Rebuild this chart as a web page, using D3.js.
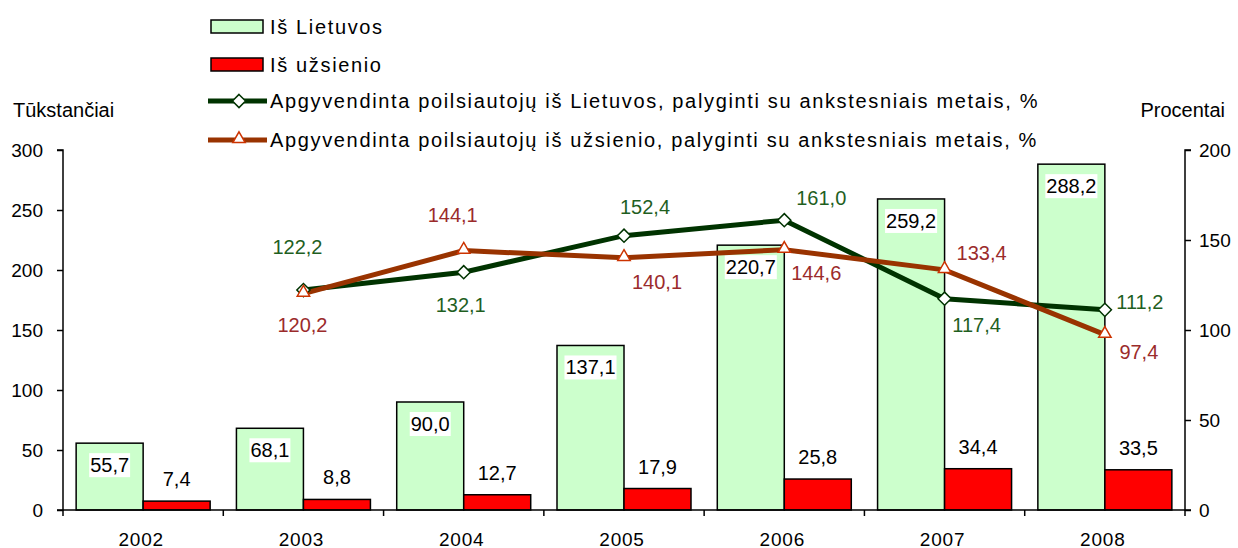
<!DOCTYPE html>
<html>
<head>
<meta charset="utf-8">
<script src="https://cdn.jsdelivr.net/npm/d3@7"></script>
<style>
	body { margin: 0; background: #fff; }
	svg { display: block; font-family: 'Liberation Sans', Arial, sans-serif; }
	.axis path, .axis line { stroke: #000; stroke-width: 1.5; }
	.axis text { font-size: 19px; fill: #000; }
</style>
</head>
<body>
<script>
// data
var years = ['2002', '2003', '2004', '2005', '2006', '2007', '2008'];
var fromLithuania = [55.7, 68.1, 90.0, 137.1, 220.7, 259.2, 288.2];
var fromAbroad = [7.4, 8.8, 12.7, 17.9, 25.8, 34.4, 33.5];
var lineYears = ['2003', '2004', '2005', '2006', '2007', '2008'];
var pctLithuania = [122.2, 132.1, 152.4, 161.0, 117.4, 111.2];
var pctAbroad = [120.2, 144.1, 140.1, 144.6, 133.4, 97.4];
var leftTicks = [0, 50, 100, 150, 200, 250, 300];
var rightTicks = [0, 50, 100, 150, 200];
var seriesNames = [
	'Iš Lietuvos',
	'Iš užsienio',
	'Apgyvendinta poilsiautojų iš Lietuvos, palyginti su ankstesniais metais, %',
	'Apgyvendinta poilsiautojų iš užsienio, palyginti su ankstesniais metais, %'
];

// hand placed label nudges (like the original), dx / dy from the marker
var greenLabelNudge = [[-6, -43], [-3, 33], [21, -29], [37, -22], [32, 26], [35, -8]];
var brownLabelNudge = [[-1, 31], [-11, -36], [33, 24], [32, 23], [37, -17], [34, 17]];

draw_chart();

function draw_chart () {
	var fmt = function (v) { return d3.format('.1f')(v).replace('.', ','); };

	var W = 1238, H = 548;
	var m = { left: 63, right: 1185, top: 150, bottom: 510 };

	var svg = d3.select('body')
		.append('svg')
		.attr('width', W)
		.attr('height', H);

	// scales
	var x = d3.scaleBand()
		.domain(years)
		.range([m.left, m.right])
		.paddingInner(0.164)
		.paddingOuter(0.082);
	var xIn = d3.scaleBand()
		.domain(['lt', 'ab'])
		.range([0, x.bandwidth()]);
	var yL = d3.scaleLinear().domain([0, 300]).range([m.bottom, m.top]);
	var yR = d3.scaleLinear().domain([0, 200]).range([m.bottom, m.top]);
	var cx = function (yr) { return x(yr) + x.bandwidth() / 2; };

	// bars
	svg.append('g')
		.selectAll('rect')
		.data(fromLithuania)
		.join('rect')
		.attr('x', function (d, i) { return x(years[i]) + xIn('lt'); })
		.attr('y', function (d) { return yL(d); })
		.attr('width', xIn.bandwidth())
		.attr('height', function (d) { return yL(0) - yL(d); })
		.attr('fill', '#ccffcc')
		.attr('stroke', '#000')
		.attr('stroke-width', 1.5);

	svg.append('g')
		.selectAll('rect')
		.data(fromAbroad)
		.join('rect')
		.attr('x', function (d, i) { return x(years[i]) + xIn('ab'); })
		.attr('y', function (d) { return yL(d); })
		.attr('width', xIn.bandwidth())
		.attr('height', function (d) { return yL(0) - yL(d); })
		.attr('fill', '#ff0000')
		.attr('stroke', '#000')
		.attr('stroke-width', 1.5);

	// axes
	var axL = d3.axisLeft(yL).tickValues(leftTicks).tickSize(6).tickPadding(14);
	svg.append('g')
		.attr('class', 'axis')
		.attr('transform', 'translate(' + m.left + ',0)')
		.call(axL)
		.call(function (g) { g.select('.domain').attr('d', 'M-6,' + m.top + 'H0V' + m.bottom + 'H-6'); });

	var axR = d3.axisRight(yR).tickValues(rightTicks).tickSize(6).tickPadding(8);
	svg.append('g')
		.attr('class', 'axis')
		.attr('transform', 'translate(' + m.right + ',0)')
		.call(axR)
		.call(function (g) { g.select('.domain').attr('d', 'M6,' + m.top + 'H0V' + m.bottom + 'H6'); });

	var xb = svg.append('g')
		.attr('class', 'axis')
		.attr('transform', 'translate(0,' + m.bottom + ')');
	xb.append('line')
		.attr('x1', m.left).attr('x2', m.right)
		.attr('y1', 0).attr('y2', 0);
	xb.selectAll('.tk')
		.data(d3.range(years.length + 1))
		.join('line')
		.attr('class', 'tk')
		.attr('x1', function (i) { return m.left + i * x.step(); })
		.attr('x2', function (i) { return m.left + i * x.step(); })
		.attr('y1', 0).attr('y2', 6);
	xb.selectAll('text')
		.data(years)
		.join('text')
		.attr('x', function (d) { return cx(d) - 2; })
		.attr('y', 29)
		.attr('dy', '0.35em')
		.attr('text-anchor', 'middle')
		.style('letter-spacing', '0.8px')
		.text(function (d) { return d; });

	// axis titles
	svg.append('text').attr('x', 13).attr('y', 110).attr('dy', '0.35em')
		.style('font-size', '20px').text('Tūkstančiai');
	svg.append('text').attr('x', 1225).attr('y', 110).attr('dy', '0.35em')
		.attr('text-anchor', 'end')
		.style('font-size', '20px').text('Procentai');

	// bar labels
	var ltLabels = svg.append('g')
		.selectAll('g')
		.data(fromLithuania)
		.join('g')
		.attr('transform', function (d, i) {
			return 'translate(' + (x(years[i]) + xIn('lt') + xIn.bandwidth() / 2) + ',' + (yL(d) + 22) + ')';
		});
	ltLabels.append('text')
		.attr('text-anchor', 'middle')
		.attr('dy', '0.35em')
		.style('font-size', '20px')
		.text(function (d) { return fmt(d); });
	ltLabels.insert('rect', 'text')
		.each(function () {
			var bb = this.parentNode.querySelector('text').getBBox();
			d3.select(this)
				.attr('x', bb.x - 1).attr('y', bb.y - 1)
				.attr('width', bb.width + 2).attr('height', bb.height + 2);
		})
		.attr('fill', '#fff');

	svg.append('g')
		.selectAll('text')
		.data(fromAbroad)
		.join('text')
		.attr('x', function (d, i) { return x(years[i]) + xIn('ab') + xIn.bandwidth() / 2; })
		.attr('y', function (d) { return yL(d) - 22; })
		.attr('dy', '0.35em')
		.attr('text-anchor', 'middle')
		.style('font-size', '20px')
		.text(function (d) { return fmt(d); });

	// lines
	var greenPts = pctLithuania.map(function (v, i) { return [cx(lineYears[i]), yR(v)]; });
	var brownPts = pctAbroad.map(function (v, i) { return [cx(lineYears[i]), yR(v)]; });
	var line = d3.line();

	svg.append('path')
		.attr('d', line(greenPts))
		.attr('fill', 'none')
		.attr('stroke', '#003300')
		.attr('stroke-width', 5);
	svg.append('path')
		.attr('d', line(brownPts))
		.attr('fill', 'none')
		.attr('stroke', '#993300')
		.attr('stroke-width', 5);

	var diamond = d3.symbol().type(d3.symbolDiamond2).size(110);
	var triangle = d3.symbol().type(d3.symbolTriangle2).size(110);

	svg.append('g')
		.selectAll('path')
		.data(greenPts)
		.join('path')
		.attr('transform', function (d) { return 'translate(' + d[0] + ',' + d[1] + ')'; })
		.attr('d', diamond)
		.attr('fill', '#fff')
		.attr('stroke', '#003300')
		.attr('stroke-width', 1.5);
	svg.append('g')
		.selectAll('path')
		.data(brownPts)
		.join('path')
		.attr('transform', function (d) { return 'translate(' + d[0] + ',' + (d[1] - 1) + ')'; })
		.attr('d', triangle)
		.attr('fill', '#fff')
		.attr('stroke', '#cc3300')
		.attr('stroke-width', 1.5);

	// line labels
	svg.append('g')
		.selectAll('text')
		.data(pctLithuania)
		.join('text')
		.attr('x', function (d, i) { return greenPts[i][0] + greenLabelNudge[i][0]; })
		.attr('y', function (d, i) { return greenPts[i][1] + greenLabelNudge[i][1]; })
		.attr('dy', '0.35em')
		.attr('text-anchor', 'middle')
		.style('font-size', '20px')
		.attr('fill', '#1f5f1f')
		.text(function (d) { return fmt(d); });
	svg.append('g')
		.selectAll('text')
		.data(pctAbroad)
		.join('text')
		.attr('x', function (d, i) { return brownPts[i][0] + brownLabelNudge[i][0]; })
		.attr('y', function (d, i) { return brownPts[i][1] + brownLabelNudge[i][1]; })
		.attr('dy', '0.35em')
		.attr('text-anchor', 'middle')
		.style('font-size', '20px')
		.attr('fill', '#9b2b2b')
		.text(function (d) { return fmt(d); });

	// legend
	var legend = svg.append('g').attr('transform', 'translate(211,0)');
	var rowY = [26.5, 64.5, 101, 140];

	legend.append('rect').attr('x', 0).attr('y', rowY[0] - 6.5).attr('width', 52).attr('height', 13)
		.attr('fill', '#ccffcc').attr('stroke', '#000').attr('stroke-width', 1.5);
	legend.append('rect').attr('x', 0).attr('y', rowY[1] - 6.5).attr('width', 52).attr('height', 13)
		.attr('fill', '#ff0000').attr('stroke', '#000').attr('stroke-width', 1.5);
	legend.append('line').attr('x1', -3).attr('x2', 56).attr('y1', rowY[2]).attr('y2', rowY[2])
		.attr('stroke', '#003300').attr('stroke-width', 5);
	legend.append('path').attr('transform', 'translate(28,' + rowY[2] + ')').attr('d', diamond)
		.attr('fill', '#fff').attr('stroke', '#003300').attr('stroke-width', 1.5);
	legend.append('line').attr('x1', -3).attr('x2', 56).attr('y1', rowY[3]).attr('y2', rowY[3])
		.attr('stroke', '#993300').attr('stroke-width', 5);
	legend.append('path').attr('transform', 'translate(28,' + (rowY[3] - 1) + ')').attr('d', triangle)
		.attr('fill', '#fff').attr('stroke', '#cc3300').attr('stroke-width', 1.5);

	legend.selectAll('text.lg')
		.data(seriesNames)
		.join('text')
		.attr('class', 'lg')
		.attr('x', 59)
		.attr('y', function (d, i) { return rowY[i]; })
		.attr('dy', '0.35em')
		.style('font-size', '20px')
		.style('letter-spacing', '1.65px')
		.text(function (d) { return d; });
}
</script>
</body>
</html>
